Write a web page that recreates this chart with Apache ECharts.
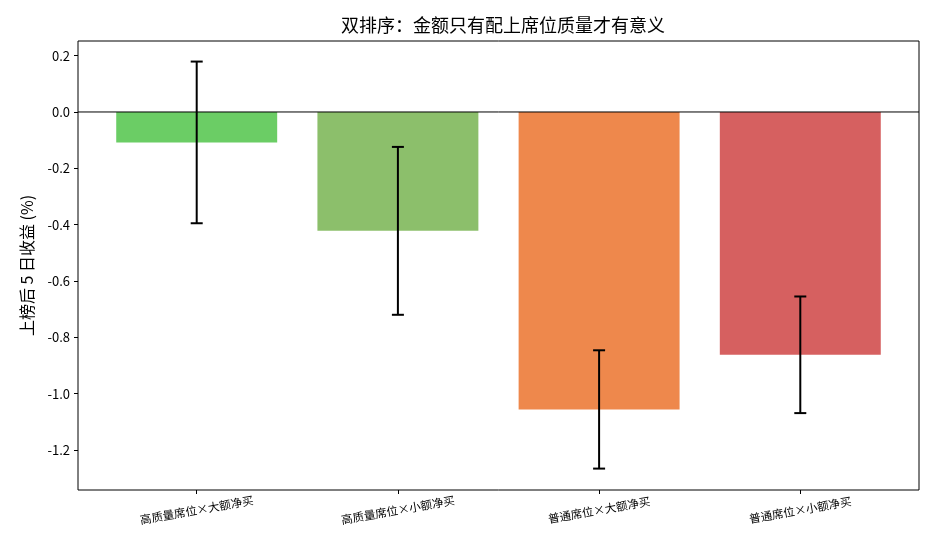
<!DOCTYPE html>
<html>
<head>
<meta charset="utf-8">
<script src="https://cdn.jsdelivr.net/npm/echarts@6/dist/echarts.min.js"></script>
<style>
  html, body { margin: 0; padding: 0; background: #fff; }
  #main { width: 935px; height: 550px; }
</style>
</head>
<body>
<div id="main"></div>
<script>
// 数据
const categories = ['高质量席位×大额净买', '高质量席位×小额净买', '普通席位×大额净买', '普通席位×小额净买']
const meanValues = [-0.108, -0.422, -1.056, -0.862]
const errValues = [0.287, 0.298, 0.210, 0.207]
const barColors = ['#6bcd65', '#8cbf6b', '#ee884c', '#d66060']
const yTicks = [-1.2, -1.0, -0.8, -0.6, -0.4, -0.2, 0.0, 0.2]

const font = '"Noto Sans CJK SC", "DejaVu Sans", sans-serif'
const myChart = echarts.init(document.getElementById('main'))

const positions = categories.map((c, i) => i)

const option = {
    animation: false,
    title: {
        text: '双排序：金额只有配上席位质量才有意义',
        left: 498,
        top: 11,
        textAlign: 'center',
        textStyle: { fontSize: 18, fontWeight: 'normal', color: '#000', fontFamily: font },
    },
    grid: { left: 78, right: 16, top: 41, bottom: 60, show: true, borderColor: '#000', borderWidth: 1 },
    xAxis: {
        type: 'value',
        min: -0.59,
        max: 3.59,
        splitLine: { show: false },
        axisLine: { show: false, onZero: false },
        axisTick: { show: true, customValues: positions, length: 4, lineStyle: { color: '#000' } },
        axisLabel: {
            customValues: positions,
            formatter: (v) => categories[Math.round(v)],
            rotate: 10,
            align: 'center',
            margin: 20,
            fontSize: 11.5,
            color: '#000',
            fontFamily: font,
        },
    },
    yAxis: {
        type: 'value',
        min: -1.342,
        max: 0.252,
        name: '上榜后 5 日收益 (%)',
        nameLocation: 'middle',
        nameGap: 43,
        nameTextStyle: { fontSize: 16, color: '#000', fontFamily: font },
        splitLine: { show: false },
        axisLine: { show: false, onZero: false },
        axisTick: { show: true, customValues: yTicks, length: 4, lineStyle: { color: '#000' } },
        axisLabel: {
            customValues: yTicks,
            formatter: (v) => v.toFixed(1),
            fontSize: 13,
            color: '#000',
            fontFamily: font,
        },
    },
    series: [
        {
            type: 'custom',
            data: meanValues.map((v, i) => [i, v]),
            renderItem: (params, api) => {
                const x = api.value(0)
                const y = api.value(1)
                const p0 = api.coord([x - 0.4, 0])
                const p1 = api.coord([x + 0.4, y])
                return {
                    type: 'rect',
                    shape: { x: p0[0], y: p0[1], width: p1[0] - p0[0], height: p1[1] - p0[1] },
                    style: { fill: barColors[params.dataIndex] },
                }
            },
            z: 2,
        },
        {
            type: 'custom',
            data: meanValues.map((v, i) => [i, v - errValues[i], v + errValues[i]]),
            renderItem: (params, api) => {
                const x = api.value(0)
                const lo = api.coord([x, api.value(1)])
                const hi = api.coord([x, api.value(2)])
                const style = { stroke: '#000', lineWidth: 2 }
                return {
                    type: 'group',
                    children: [
                        { type: 'line', shape: { x1: lo[0], y1: lo[1], x2: hi[0], y2: hi[1] }, style },
                        { type: 'line', shape: { x1: lo[0] - 6, y1: lo[1], x2: lo[0] + 6, y2: lo[1] }, style },
                        { type: 'line', shape: { x1: hi[0] - 6, y1: hi[1], x2: hi[0] + 6, y2: hi[1] }, style },
                    ],
                }
            },
            z: 4,
        },
        {
            type: 'line',
            data: [[-0.59, 0], [3.59, 0]],
            symbol: 'none',
            lineStyle: { color: '#000', width: 1 },
            z: 3,
        },
    ],
}

myChart.setOption(option)
</script>
</body>
</html>
